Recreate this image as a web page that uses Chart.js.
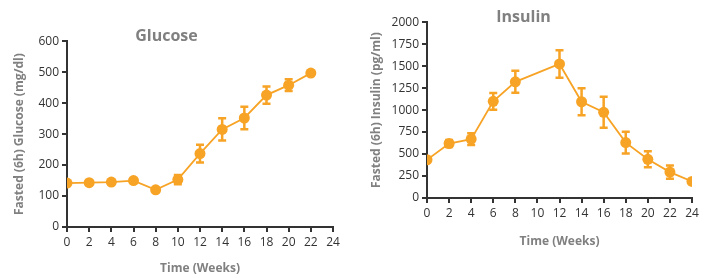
<!DOCTYPE html>
<html>
<head>
<meta charset="utf-8">
<script src="https://cdn.jsdelivr.net/npm/chart.js@4/dist/chart.umd.min.js"></script>
<style>
  html, body { margin: 0; padding: 0; background: #fff; }
  #wrap { position: relative; width: 710px; height: 278px; }
  .box { position: absolute; top: 0; width: 355px; height: 278px; }
</style>
</head>
<body>
<div id="wrap">
  <div class="box" style="left:0"><canvas id="glucose"></canvas></div>
  <div class="box" style="left:355px"><canvas id="insulin"></canvas></div>
</div>
<script>
// data
var glucoseWeeks = [0, 2, 4, 6, 8, 10, 12, 14, 16, 18, 20, 22];
var glucoseMean  = [142, 143, 145, 150, 120, 153, 237, 315, 352, 426, 458, 497];
var glucoseErr   = [0, 0, 0, 0, 0, 15, 29, 36, 36, 28, 19, 0];

var insulinWeeks = [0, 2, 4, 6, 8, 12, 14, 16, 18, 20, 22, 24];
var insulinMean  = [435, 620, 670, 1100, 1322, 1525, 1095, 975, 630, 440, 295, 188];
var insulinErr   = [0, 40, 66, 95, 125, 157, 155, 176, 123, 91, 76, 0];

var orange = '#F7A325';
var dark = '#333333';
var grey = '#808080';
var fontFam = "'Open Sans', sans-serif";

// error bars drawn with the chart's own scales
var errorBars = {
  id: 'errorBars',
  beforeDatasetsDraw: function(chart) {
    var ctx = chart.ctx;
    var xs = chart.scales.x, ys = chart.scales.y;
    chart.data.datasets.forEach(function(ds) {
      ctx.save();
      ctx.strokeStyle = orange;
      ctx.lineWidth = 2.5;
      ds.data.forEach(function(p, i) {
        var e = ds.errors[i];
        if (!e) return;
        var x = xs.getPixelForValue(p.x);
        var yt = ys.getPixelForValue(p.y + e);
        var yb = ys.getPixelForValue(p.y - e);
        ctx.beginPath();
        ctx.moveTo(x, yt); ctx.lineTo(x, yb);
        ctx.moveTo(x - 4, yt); ctx.lineTo(x + 4, yt);
        ctx.moveTo(x - 4, yb); ctx.lineTo(x + 4, yb);
        ctx.stroke();
      });
      ctx.restore();
    });
  }
};

function plain(v) { return String(v); }

function makeChart(id, title, yLabel, xs, ys, errs, yMax, yStep, opt) {
  var pts = [];
  for (var i = 0; i < xs.length; i++) pts.push({x: xs[i], y: ys[i]});
  var ctx = document.getElementById(id).getContext('2d');
  return new Chart(ctx, {
    type: 'line',
    data: {
      datasets: [{
        data: pts,
        errors: errs,
        borderColor: orange,
        backgroundColor: orange,
        borderWidth: 1.8,
        pointRadius: 5.5,
        pointBorderWidth: 0,
        pointHoverRadius: 5.5,
        tension: 0
      }]
    },
    options: {
      responsive: false,
      animation: false,
      events: [],
      layout: { padding: { left: 0, right: opt.padRight, top: 0, bottom: opt.padBottom } },
      plugins: {
        legend: { display: false },
        tooltip: { enabled: false },
        title: {
          display: true,
          text: title,
          color: grey,
          font: { family: fontFam, size: 16, weight: 'bold' },
          padding: { top: opt.titleTop, bottom: opt.titleBottom }
        }
      },
      scales: {
        x: {
          type: 'linear',
          min: 0, max: 24,
          afterFit: function(s) { s.height = opt.xHeight; },
          ticks: { stepSize: 2, color: dark, font: { family: fontFam, size: 12 }, padding: 3, maxRotation: 0, callback: plain },
          grid: { drawOnChartArea: false, drawTicks: true, tickLength: 5, color: dark, lineWidth: 2 },
          border: { color: dark, width: 2 },
          title: {
            display: true, text: 'Time (Weeks)', color: grey,
            font: { family: fontFam, size: 12, weight: 'bold' },
            padding: { top: 0, bottom: opt.xTitlePad }
          }
        },
        y: {
          min: 0, max: yMax,
          afterFit: function(s) { s.width = opt.yWidth; },
          ticks: { stepSize: yStep, color: dark, font: { family: fontFam, size: 12 }, padding: 3, callback: plain },
          grid: { drawOnChartArea: false, drawTicks: true, tickLength: 5, color: dark, lineWidth: 2 },
          border: { color: dark, width: 2 },
          title: {
            display: true, text: yLabel, color: grey,
            font: { family: fontFam, size: 12, weight: 'bold' },
            padding: { top: opt.yTitlePad, bottom: 0 }
          }
        }
      }
    },
    plugins: [errorBars]
  });
}

document.getElementById('glucose').width = 355;
document.getElementById('glucose').height = 278;
document.getElementById('insulin').width = 355;
document.getElementById('insulin').height = 278;

makeChart('glucose', 'Glucose', 'Fasted (6h) Glucose (mg/dl)', glucoseWeeks, glucoseMean, glucoseErr, 600, 100,
  { padRight: 22, padBottom: 0, titleTop: 27, titleBottom: -5, xHeight: 51, yWidth: 67, xTitlePad: 2, yTitlePad: 12 });
makeChart('insulin', 'Insulin', 'Fasted (6h) Insulin (pg/ml)', insulinWeeks, insulinMean, insulinErr, 2000, 250,
  { padRight: 18, padBottom: 27, titleTop: 8, titleBottom: -5, xHeight: 53, yWidth: 72, xTitlePad: 2, yTitlePad: 14 });
</script>
</body>
</html>
